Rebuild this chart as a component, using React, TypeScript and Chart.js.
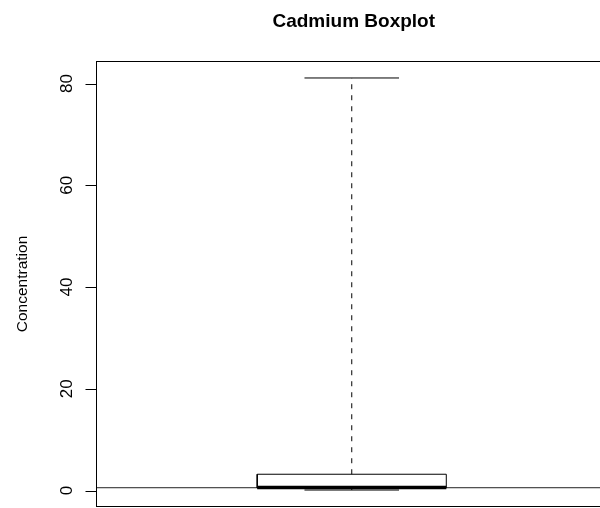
import React, { useEffect, useRef } from "react";
import { Chart, registerables } from "chart.js";

Chart.register(...registerables);

// ---- data ----
const chartTitle = "Cadmium Boxplot";
const yAxisLabel = "Concentration";
const yTickValues = [0, 20, 40, 60, 80];
// five-number summary: lower whisker, Q1, median, Q3, upper whisker
const boxStats = [0.1, 0.5, 0.6, 3.2, 81.1];
// horizontal reference line(s)
const refLines = [0.55];
// group position on the x axis
const groupPositions = [1];

// ---- style constants ----
const FONT = '"Liberation Sans", Arial, Helvetica, sans-serif';
const BOX_HALF = 0.2;
const CAP_HALF = 0.1;
const X_MIN = 0.46;
const X_MAX = 1.54;

function rExtend(lo: number, hi: number) {
  const r = hi - lo;
  return [lo - 0.04 * r, hi + 0.04 * r];
}

const lineDs = (label: string, data: { x: number; y: number }[], extra: any = {}) => ({
  label,
  data,
  showLine: true,
  pointRadius: 0,
  pointHoverRadius: 0,
  fill: false,
  tension: 0,
  borderColor: "#000",
  borderWidth: 1,
  borderCapStyle: "butt",
  ...extra,
});

const rDecor = {
  id: "rDecor",
  beforeDraw(chart: any) {
    const { ctx } = chart;
    ctx.save();
    ctx.fillStyle = "#fff";
    ctx.fillRect(0, 0, chart.width, chart.height);
    ctx.restore();
  },
  afterDraw(chart: any) {
    const { ctx, chartArea } = chart;
    const y = chart.scales.y;
    const { left, top, right, bottom } = chartArea;
    ctx.save();
    // frame
    ctx.strokeStyle = "#000";
    ctx.lineWidth = 1;
    ctx.strokeRect(left, top, right - left, bottom - top);
    // y ticks
    ctx.beginPath();
    yTickValues.forEach((v) => {
      const py = Math.round(y.getPixelForValue(v)) + 0.5;
      ctx.moveTo(left - 11, py);
      ctx.lineTo(left, py);
    });
    ctx.stroke();
    // y tick labels (rotated)
    ctx.fillStyle = "#000";
    ctx.font = `17px ${FONT}`;
    ctx.textAlign = "center";
    ctx.textBaseline = "alphabetic";
    yTickValues.forEach((v) => {
      const py = y.getPixelForValue(v);
      ctx.save();
      ctx.translate(71.5, py);
      ctx.rotate(-Math.PI / 2);
      ctx.fillText(String(v), 0, 0);
      ctx.restore();
    });
    // y axis label
    ctx.font = `15.5px ${FONT}`;
    ctx.save();
    ctx.translate(26.5, (top + bottom) / 2);
    ctx.rotate(-Math.PI / 2);
    ctx.fillText(yAxisLabel, 0, 0);
    ctx.restore();
    // title
    ctx.font = `bold 19px ${FONT}`;
    ctx.textAlign = "center";
    ctx.fillText(chartTitle, (left + right) / 2 + 2, 26.5);
    ctx.restore();
  },
};

export default function App() {
  const ref = useRef<HTMLCanvasElement>(null);

  useEffect(() => {
    if (!ref.current) return;
    const [mn, lq, md, uq, mx] = boxStats;
    const [yMin, yMax] = rExtend(mn, mx);
    const datasets: any[] = [];
    groupPositions.forEach((gx) => {
      datasets.push(
        lineDs("median", [
          { x: gx - BOX_HALF, y: md },
          { x: gx + BOX_HALF, y: md },
        ], { borderWidth: 3.5 })
      );
      datasets.push(
        lineDs("box", [
          { x: gx - BOX_HALF, y: lq },
          { x: gx + BOX_HALF, y: lq },
          { x: gx + BOX_HALF, y: uq },
          { x: gx - BOX_HALF, y: uq },
          { x: gx - BOX_HALF, y: lq },
        ])
      );
      datasets.push(
        lineDs("upper whisker", [
          { x: gx, y: uq },
          { x: gx, y: mx },
        ], { borderDash: [5, 6] })
      );
      datasets.push(
        lineDs("lower whisker", [
          { x: gx, y: mn },
          { x: gx, y: lq },
        ], { borderDash: [5, 6] })
      );
      datasets.push(
        lineDs("upper cap", [
          { x: gx - CAP_HALF, y: mx },
          { x: gx + CAP_HALF, y: mx },
        ])
      );
      datasets.push(
        lineDs("lower cap", [
          { x: gx - CAP_HALF, y: mn },
          { x: gx + CAP_HALF, y: mn },
        ])
      );
    });
    refLines.forEach((h) => {
      datasets.push(
        lineDs("reference", [
          { x: X_MIN, y: h },
          { x: X_MAX, y: h },
        ], { borderColor: "#222" })
      );
    });

    const chart = new Chart(ref.current, {
      type: "scatter",
      data: { datasets },
      options: {
        responsive: false,
        animation: false,
        events: [],
        layout: { padding: { left: 96.5, top: 61.5, right: 0, bottom: 1.5 } },
        plugins: {
          legend: { display: false },
          tooltip: { enabled: false },
          title: { display: false },
        },
        scales: {
          x: { type: "linear", min: X_MIN, max: X_MAX, display: false },
          y: { type: "linear", min: yMin, max: yMax, display: false },
        },
      },
      plugins: [rDecor],
    } as any);
    return () => chart.destroy();
  }, []);

  return (
    <div
      style={{
        position: "fixed",
        left: 0,
        top: 0,
        width: 600,
        height: 508,
        overflow: "hidden",
        background: "#fff",
      }}
    >
      <canvas ref={ref} width={607} height={508} style={{ display: "block" }} />
    </div>
  );
}
